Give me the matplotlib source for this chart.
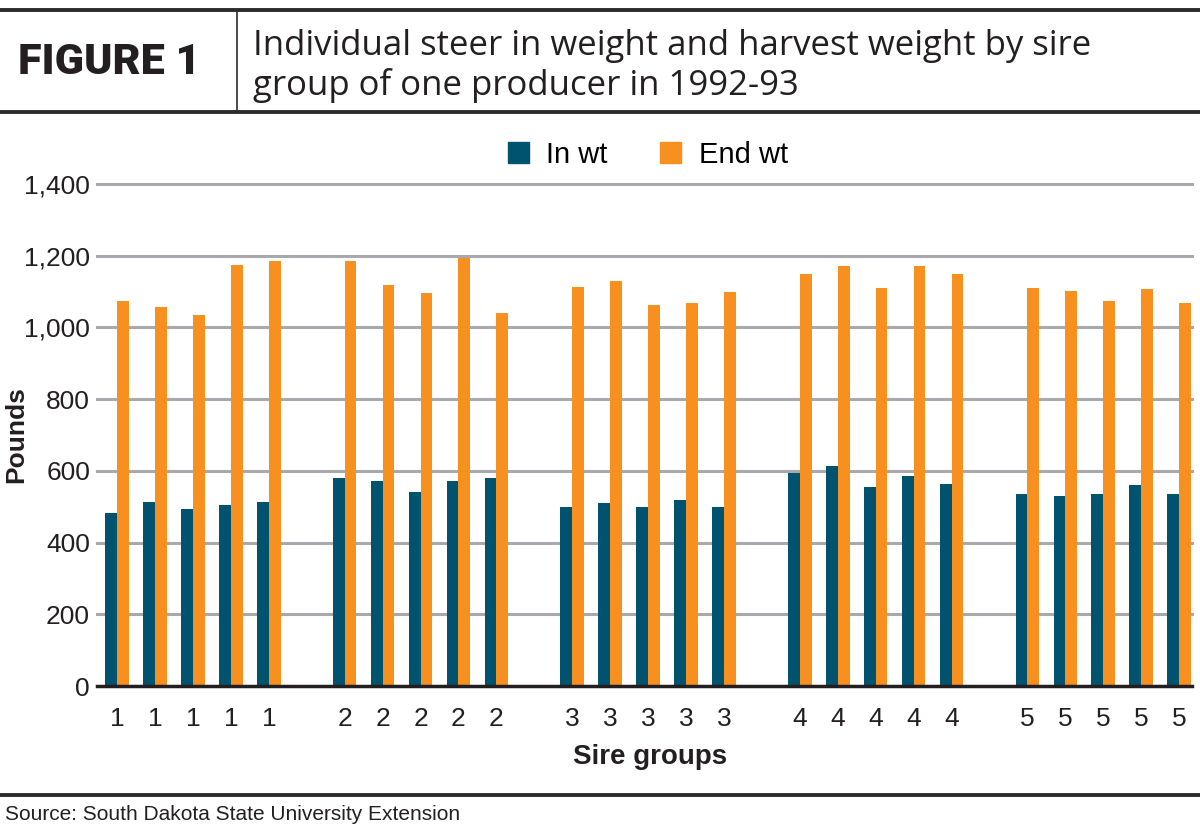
import matplotlib
matplotlib.use("Agg")
import matplotlib.pyplot as plt
from matplotlib.lines import Line2D
from matplotlib.patches import Patch

# ---- data ----
groups = ["1", "2", "3", "4", "5"]
in_wt = [
    [483, 513, 495, 504, 513],
    [579, 571, 541, 571, 579],
    [498, 510, 498, 520, 498],
    [594, 613, 554, 586, 564],
    [535, 530, 535, 560, 536],
]
end_wt = [
    [1074, 1058, 1035, 1174, 1186],
    [1186, 1117, 1096, 1194, 1039],
    [1113, 1129, 1063, 1067, 1098],
    [1150, 1171, 1109, 1171, 1150],
    [1109, 1102, 1073, 1106, 1067],
]
yticks = [0, 200, 400, 600, 800, 1000, 1200, 1400]
title_left = "FIGURE 1"
title_right = "Individual steer in weight and harvest weight by sire\ngroup of one producer in 1992-93"
source = "Source: South Dakota State University Extension"

NAVY = "#00536f"
ORANGE = "#f7901e"
GRID = "#a7a9ac"
DARK = "#231f20"

plt.rcParams['font.family'] = ['Liberation Sans', 'DejaVu Sans']

fig = plt.figure(figsize=(12, 8.34), dpi=100)

# positions: one empty slot between groups
pos, labels, inv, endv = [], [], [], []
for g, name in enumerate(groups):
    for i in range(len(in_wt[g])):
        pos.append(g * 6 + i)
        labels.append(name)
        inv.append(in_wt[g][i])
        endv.append(end_wt[g][i])

ax = fig.add_axes([97/1200, 1 - 686/834, (1192 - 97)/1200, (686 - 184)/834])
w = 0.31
ax.bar([p - w/2 for p in pos], inv, width=w, color=NAVY, zorder=2, label="In wt")
ax.bar([p + w/2 for p in pos], endv, width=w, color=ORANGE, zorder=2, label="End wt")

ax.set_xlim(-0.53, 28.34)
ax.set_ylim(0, 1400)
ax.set_yticks(yticks)
ax.set_yticklabels([f"{v:,}" for v in yticks])
ax.set_xticks(pos)
ax.set_xticklabels(labels)
ax.tick_params(axis='both', length=0, labelsize=19, colors=DARK)
ax.tick_params(axis='x', pad=15)
ax.tick_params(axis='y', pad=5)
ax.yaxis.grid(True, color=GRID, linewidth=2.2, zorder=0)
ax.set_axisbelow(True)
for gl in ax.get_ygridlines():
    gl.set_clip_on(False)
for s in ["top", "right", "left"]:
    ax.spines[s].set_visible(False)
ax.spines["bottom"].set_color(DARK)
ax.spines["bottom"].set_linewidth(2.5)
ax.spines["bottom"].set_zorder(3)

ax.set_ylabel("Pounds", fontsize=19, fontweight='bold', color=DARK)
ax.yaxis.set_label_coords(-0.063, 0.5)
fig.text(650/1200, 1 - 757/834, "Sire groups", ha='center', va='center',
         fontsize=20, fontweight='bold', color=DARK)

handles = [Patch(color=NAVY, label="In wt"), Patch(color=ORANGE, label="End wt")]
fig.legend(handles=handles, loc='center', bbox_to_anchor=(648/1200, 1 - 155/834),
           ncol=2, frameon=False, fontsize=21, handlelength=0.72, handleheight=0.72,
           handletextpad=0.6, columnspacing=1.8)

# header
def hline(y, lw):
    fig.add_artist(Line2D([0, 1], [1 - y/834, 1 - y/834], color="#2b2b2b", linewidth=lw,
                          transform=fig.transFigure))

hline(9.5, 2.8)
hline(111.5, 2.8)
hline(795, 2.8)
fig.add_artist(Line2D([237/1200, 237/1200], [1 - 11/834, 1 - 110/834], color="#2b2b2b",
                      linewidth=1.2, transform=fig.transFigure))

fig.text(109/1200, 1 - 63/834, title_left, ha='center', va='center', fontsize=31,
         fontweight='heavy', family=['Roboto', 'DejaVu Sans'], color=DARK)
fig.text(253/1200, 1 - 66/834, title_right, ha='left', va='center', fontsize=25,
         family=['Open Sans', 'DejaVu Sans'], color=DARK, linespacing=1.18)
fig.text(5/1200, 1 - 815/834, source, ha='left', va='center', fontsize=15, color=DARK)

fig.savefig("out.png", dpi=100)
